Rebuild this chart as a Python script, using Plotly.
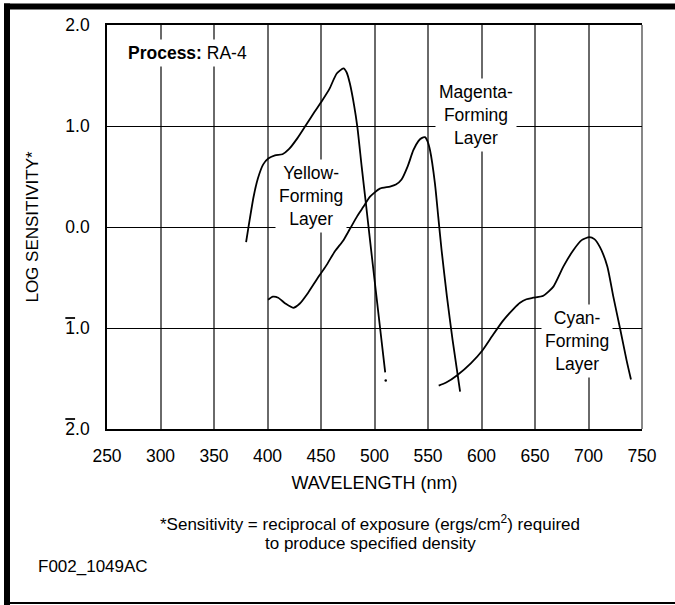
import plotly.graph_objects as go

# ---------------- data ----------------
yellow_x = [380, 383, 387, 391, 396, 401, 407, 414, 420, 428, 436, 444, 451, 458, 464.7, 471, 474,
            477, 481, 484, 488, 492, 495.8, 500, 505, 510]
yellow_y = [-0.15, 0.05, 0.30, 0.48, 0.62, 0.68, 0.71, 0.72, 0.77, 0.88, 1.01, 1.14, 1.25, 1.37, 1.52,
            1.57, 1.53, 1.42, 1.20, 0.99, 0.60, 0.23, -0.13, -0.52, -0.98, -1.44]
yellow_dot_x = [510.5]
yellow_dot_y = [-1.52]

magenta_x = [400.5, 405, 410, 417, 424, 430, 438, 446, 455, 463, 471, 477.5, 484, 489.6, 495.8, 505,
             514.5, 520, 525.3, 531, 536.3, 541, 544, 547.2, 549.5, 551.9, 556.5, 559.6, 562.7, 567.7,
             573, 580]
magenta_y = [-0.72, -0.69, -0.70, -0.76, -0.80, -0.76, -0.65, -0.52, -0.38, -0.24, -0.13, -0.01, 0.11,
             0.20, 0.30, 0.38, 0.40, 0.42, 0.47, 0.60, 0.76, 0.85, 0.88, 0.89, 0.85, 0.76, 0.43, 0.10,
             -0.23, -0.69, -1.12, -1.63]

cyan_x = [560, 567, 577, 590, 601, 610, 620, 630, 636, 642, 648.4, 657.8, 667.2, 676.6, 685.8, 693.6,
          700.8, 705.5, 710.7, 717.6, 723.2, 729.4, 735.6, 739.7]
cyan_y = [-1.57, -1.54, -1.47, -1.35, -1.22, -1.08, -0.93, -0.81, -0.75, -0.715, -0.70, -0.68, -0.59,
          -0.39, -0.23, -0.13, -0.10, -0.12, -0.20, -0.39, -0.69, -1.00, -1.32, -1.51]

x_ticks = [250, 300, 350, 400, 450, 500, 550, 600, 650, 700, 750]
y_ticks = [2, 1, 0, -1, -2]
OV = "<span style='text-decoration:overline'>{}</span>.0"
y_ticktext = ["2.0", "1.0", "0.0", OV.format("1"), OV.format("2")]

labels_text = ["<b>Process:</b> RA-4", "Yellow-<br>Forming<br>Layer",
               "Magenta-<br>Forming<br>Layer", "Cyan-<br>Forming<br>Layer"]
labels_x = [266, 440.5, 595, 689]
labels_y = [1.72, 0.31, 1.11, -1.13]

FONT = "Liberation Sans, Arial, Helvetica, sans-serif"

# ---------------- layout geometry (pixels) ----------------
W, H = 675, 605
L, R, T, B = 107, 642, 25, 429


def px_x(p):
    return (p - L) / (R - L)


def px_y(p):
    return (B - p) / (B - T)


fig = go.Figure()
line_style = dict(color="black", width=1.8, shape="spline", smoothing=0.6)
fig.add_trace(go.Scatter(x=yellow_x, y=yellow_y, mode="lines", line=line_style, name="Yellow"))
fig.add_trace(go.Scatter(x=yellow_dot_x, y=yellow_dot_y, mode="markers",
                         marker=dict(color="black", size=2.5), name="dot"))
fig.add_trace(go.Scatter(x=magenta_x, y=magenta_y, mode="lines", line=line_style, name="Magenta"))
fig.add_trace(go.Scatter(x=cyan_x, y=cyan_y, mode="lines", line=line_style, name="Cyan"))

annotations = []
for i, (t, xx, yy) in enumerate(zip(labels_text, labels_x, labels_y)):
    annotations.append(dict(x=xx, y=yy, xref="x", yref="y", text=t, showarrow=False,
                            xanchor="left" if i == 0 else "center", yanchor="middle",
                            align="left" if i == 0 else "center",
                            bgcolor="white", borderpad=3,
                            font=dict(family=FONT, size=17.5, color="black")))

annotations += [
    dict(x=px_x(370), y=px_y(523), xref="paper", yref="paper", showarrow=False,
         text="*Sensitivity = reciprocal of exposure (ergs/cm<sup>2</sup>) required",
         xanchor="center", yanchor="middle", font=dict(family=FONT, size=17, color="black")),
    dict(x=px_x(370), y=px_y(543), xref="paper", yref="paper", showarrow=False,
         text="to produce specified density",
         xanchor="center", yanchor="middle", font=dict(family=FONT, size=17, color="black")),
    dict(x=px_x(36), y=px_y(566), xref="paper", yref="paper", showarrow=False,
         text="F002_1049AC", xanchor="left", yanchor="middle",
         font=dict(family=FONT, size=17, color="black")),
]

shapes = [
    # thick top bar
    dict(type="rect", xref="paper", yref="paper", x0=px_x(4), x1=px_x(W + 2), y0=px_y(9.5), y1=px_y(3.5),
         fillcolor="black", line=dict(width=0), layer="above"),
    # thick left bar
    dict(type="rect", xref="paper", yref="paper", x0=px_x(4), x1=px_x(10), y0=px_y(H + 2), y1=px_y(3.5),
         fillcolor="black", line=dict(width=0), layer="above"),
    # thin bottom line
    dict(type="line", xref="paper", yref="paper", x0=px_x(4), x1=px_x(W + 2), y0=px_y(603), y1=px_y(603),
         line=dict(color="black", width=2), layer="above"),
    # right plot edge (gray)
    dict(type="line", xref="paper", yref="paper", x0=1, x1=1, y0=0, y1=1,
         line=dict(color="#6a6a6a", width=1.6), layer="below"),
]

fig.update_layout(
    width=W, height=H,
    margin=dict(l=L, r=W - R, t=T, b=H - B, pad=0),
    paper_bgcolor="white", plot_bgcolor="white",
    showlegend=False,
    font=dict(family=FONT, size=17, color="black"),
    annotations=annotations,
    shapes=shapes,
    xaxis=dict(range=[250, 750], tickvals=x_ticks, ticktext=[str(v) for v in x_ticks],
               showgrid=True, gridcolor="#6a6a6a", gridwidth=1.6,
               showline=True, linecolor="black", linewidth=1.6, mirror=True,
               ticks="", ticklabelstandoff=10, zeroline=False,
               tickfont=dict(family=FONT, size=17.5, color="black"),
               title=dict(text="WAVELENGTH (nm)", standoff=12,
                          font=dict(family=FONT, size=18, color="black"))),
    yaxis=dict(range=[-2, 2], tickvals=y_ticks, ticktext=y_ticktext,
               showgrid=True, gridcolor="black", gridwidth=1.4,
               showline=True, linecolor="black", linewidth=1.6, mirror=False,
               ticks="", ticklabelstandoff=12, zeroline=False,
               tickfont=dict(family=FONT, size=17.5, color="black"),
               title=dict(text="LOG SENSITIVITY*", standoff=22,
                          font=dict(family=FONT, size=17, color="black"))),
)

fig.write_html("out.html", config={"displayModeBar": False},
               post_script="document.body.style.margin='0';document.body.style.overflow='hidden';")
